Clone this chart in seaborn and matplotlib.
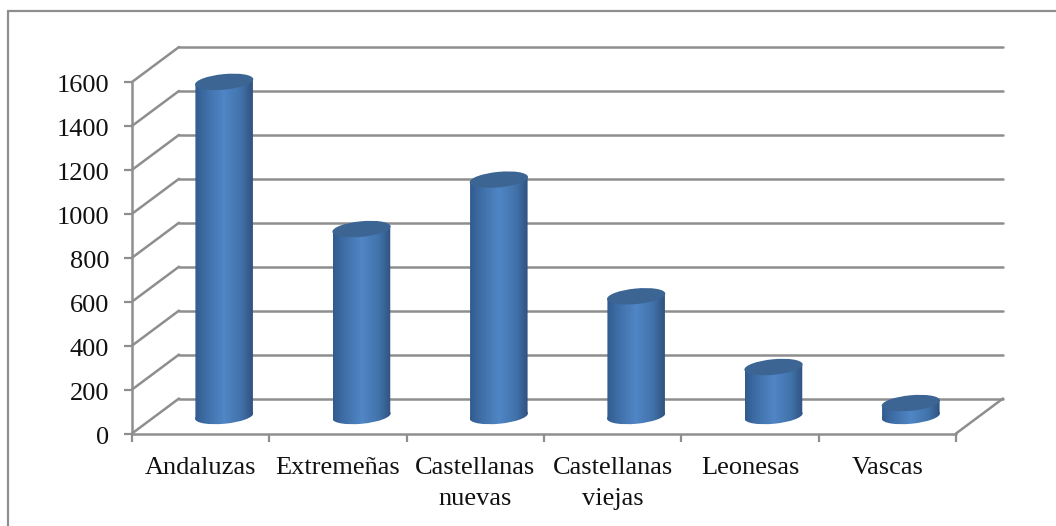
import numpy as np
import pandas as pd
import matplotlib
matplotlib.use("Agg")
import matplotlib.pyplot as plt
from matplotlib.patches import Ellipse, Polygon
from matplotlib.transforms import Affine2D, IdentityTransform
from matplotlib.colors import LinearSegmentedColormap
import seaborn as sns

categories = ["Andaluzas", "Extremeñas", "Castellanas\nnuevas", "Castellanas\nviejas", "Leonesas", "Vascas"]
values = [1521, 851, 1076, 545, 223, 59]
y_ticks = [0, 200, 400, 600, 800, 1000, 1200, 1400, 1600]

W, H = 1056, 526
LEFT, RIGHT, BASE, TOP = 132, 956, 433.5, 82
DEPTH_X, DEPTH_Y = 47, 35
GREY = "#8e8e8e"
BODY = LinearSegmentedColormap.from_list(
    "body", [(0, "#315b8e"), (0.2, "#3f6fa8"), (0.5, "#5086c6"), (0.8, "#4172aa"), (1, "#2f5280")])
TOP_COLOR = "#3c6594"

sns.set_theme(style="white")
plt.rcParams["font.family"] = ["Liberation Serif", "DejaVu Serif"]

fig = plt.figure(figsize=(W / 100, H / 100), dpi=100)
ax = fig.add_axes([LEFT / W, 1 - BASE / H, (RIGHT - LEFT) / W, (BASE - TOP) / H])

df = pd.DataFrame({"region": categories, "total": values})
sns.barplot(data=df, x="region", y="total", width=57.5 / 137.3, color="#4f86c6", ax=ax, zorder=3)
ax.set_xlim(-0.5, len(categories) - 0.5)
ax.set_ylim(0, 1600)
ax.set_xlabel("")
ax.set_ylabel("")
for s in ax.spines.values():
    s.set_visible(False)

# Shifted transforms for the back wall and for the mid-depth plane holding the bars
back = ax.transData + Affine2D().translate(DEPTH_X, DEPTH_Y)
mid = ax.transData + Affine2D().translate(DEPTH_X / 2, DEPTH_Y / 2)
LW = 1.8

# Back wall gridlines, with the diagonal running to the front axis
for v in y_ticks:
    ax.plot([-0.5, 5.5], [v, v], transform=back, color=GREY, lw=LW, clip_on=False, zorder=1)
    x0, y0 = ax.transData.transform((-0.5, v))
    ax.plot([x0, x0 + DEPTH_X], [y0, y0 + DEPTH_Y], transform=IdentityTransform(),
            color=GREY, lw=LW, clip_on=False, zorder=1)

# Front axis lines, floor edge and tick marks
ax.plot([-0.5, -0.5], [0, 1600], color=GREY, lw=LW, clip_on=False, zorder=2)
ax.plot([-0.5, 5.5], [0, 0], color=GREY, lw=LW, clip_on=False, zorder=2)
x0, y0 = ax.transData.transform((5.5, 0))
ax.plot([x0, x0 + DEPTH_X], [y0, y0 + DEPTH_Y], transform=IdentityTransform(),
        color=GREY, lw=LW, clip_on=False, zorder=1)

ax.set_yticks(y_ticks)
ax.set_xticks(np.arange(-0.5, 6, 1), minor=True)
ax.set_xticks(range(6))
ax.set_xticklabels(categories, linespacing=1.5)
ax.tick_params(axis="x", which="minor", length=5.5, width=1.6, color=GREY, bottom=True)
ax.tick_params(axis="x", which="major", length=0, pad=17, labelsize=19, labelcolor="#111111", bottom=False)
ax.tick_params(axis="y", length=5.5, width=1.6, color=GREY, left=True, pad=11, labelsize=19, labelcolor="#111111")
for label in ax.get_yticklabels():
    label.set_transform(label.get_transform() + Affine2D().translate(0, -2))

# Cylinders: the seaborn bars supply position and height, shading and caps go on top
gradient = np.linspace(0, 1, 256).reshape(1, -1)
cap_w, cap_h, tilt = 58.5, 15.5, 5.5
rise = cap_w / 2 * np.tan(np.radians(tilt))
for bar in list(ax.patches):
    bar.set_visible(False)
    x, w, h = bar.get_x(), bar.get_width(), bar.get_height()
    (lx, by), (rx, ty) = mid.transform([(x, 0), (x + w, h)])
    cx = (lx + rx) / 2

    # Side wall, with slanted ends so it meets the tilted ellipses
    outline = Polygon([(lx, by - rise), (rx, by + rise), (rx, ty + rise), (lx, ty - rise)],
                      closed=True, transform=IdentityTransform())
    body = ax.imshow(gradient, cmap=BODY, aspect="auto", extent=(x, x + w, -70, h + 70),
                     transform=mid, zorder=3)
    body.set_clip_box(fig.bbox)
    body.set_clip_path(outline)

    # Rounded underside
    under = ax.imshow(gradient, cmap=BODY, aspect="auto", extent=(x, x + w, -70, 70),
                      transform=mid, zorder=3)
    under.set_clip_box(fig.bbox)
    under.set_clip_path(Ellipse((cx, by), cap_w, cap_h, angle=tilt, transform=IdentityTransform()))

    # Flat top
    cap = Ellipse((cx, ty), cap_w, cap_h, angle=tilt, transform=IdentityTransform(),
                  facecolor=TOP_COLOR, edgecolor="none", zorder=4, clip_on=False)
    ax.add_artist(cap)
ax.set_xlim(-0.5, len(categories) - 0.5)
ax.set_ylim(0, 1600)

# Outer chart border: left and top edges are the ones inside the frame
for xs, ys in [((8, 8), (11, 526)), ((8, 1056), (11, 11))]:
    fig.add_artist(plt.Line2D([a / W for a in xs], [1 - b / H for b in ys], color=GREY, lw=1.6))

fig.savefig("out.png", dpi=100)
